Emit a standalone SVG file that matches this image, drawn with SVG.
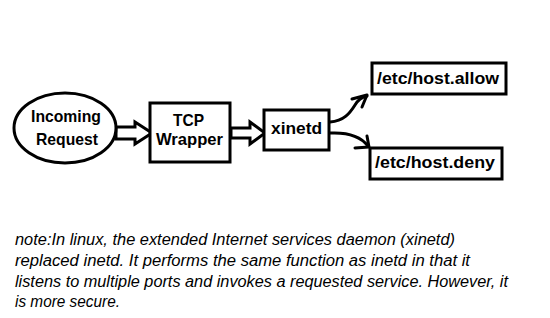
<svg xmlns="http://www.w3.org/2000/svg" width="550" height="318" viewBox="0 0 550 318">
<style>
.box{fill:#fff;stroke:#000;stroke-width:3}
.lbl{font-family:"Liberation Sans",Arial,sans-serif;font-weight:bold;font-size:16.5px;fill:#000}
.note{font-family:"Liberation Sans",Arial,sans-serif;font-style:italic;font-size:16px;fill:#000}
.blk{fill:#fff;stroke:#000;stroke-width:3;stroke-linejoin:miter}
.crv{fill:none;stroke:#000;stroke-width:3;stroke-linecap:round;stroke-linejoin:round}
</style>
<rect width="550" height="318" fill="#fff"/>
<g id="connectors">
<polygon class="blk" points="116,127 135,127 135,122 152,133 135,144 135,139 116,139"/>
<polygon class="blk" points="231,128 250,128 250,122 265,133 250,144 250,138 231,138"/>
<path class="crv" d="M330,122 C344,121 350,113 355,105 C358,100 362,97 367,96"/>
<path class="crv" d="M352,99 L367,95 L362,107"/>
<path class="crv" d="M330,133 C350,132 362,138 368,146"/>
<path class="crv" d="M355,148 L369,147 L367,136"/>
</g>
<g id="incoming">
<ellipse class="box" cx="65" cy="128" rx="51" ry="35"/>
<text class="lbl" x="31" y="122" textLength="70" lengthAdjust="spacingAndGlyphs">Incoming</text>
<text class="lbl" x="36" y="145" textLength="62" lengthAdjust="spacingAndGlyphs">Request</text>
</g>
<g id="tcp">
<rect class="box" x="150" y="103" width="80" height="59"/>
<text class="lbl" x="173" y="126" textLength="31" lengthAdjust="spacingAndGlyphs">TCP</text>
<text class="lbl" x="156" y="145" textLength="67" lengthAdjust="spacingAndGlyphs">Wrapper</text>
</g>
<g id="xinetd">
<rect class="box" x="264" y="110" width="65" height="40"/>
<text class="lbl" x="271" y="134" textLength="51" lengthAdjust="spacingAndGlyphs">xinetd</text>
</g>
<g id="allow">
<rect class="box" x="372" y="63" width="134" height="31"/>
<text class="lbl" x="377" y="84" textLength="122" lengthAdjust="spacingAndGlyphs">/etc/host.allow</text>
</g>
<g id="deny">
<rect class="box" x="370" y="148" width="132" height="31"/>
<text class="lbl" x="375" y="168" textLength="120" lengthAdjust="spacingAndGlyphs">/etc/host.deny</text>
</g>
<g id="note">
<text class="note" x="15" y="245" textLength="440" lengthAdjust="spacingAndGlyphs">note:In linux, the extended Internet services daemon (xinetd)</text>
<text class="note" x="15" y="266" textLength="455" lengthAdjust="spacingAndGlyphs">replaced inetd. It performs the same function as inetd in that it</text>
<text class="note" x="15" y="287" textLength="493" lengthAdjust="spacingAndGlyphs">listens to multiple ports and invokes a requested service. However, it</text>
<text class="note" x="15" y="307" textLength="105" lengthAdjust="spacingAndGlyphs">is more secure.</text>
</g>
</svg>
